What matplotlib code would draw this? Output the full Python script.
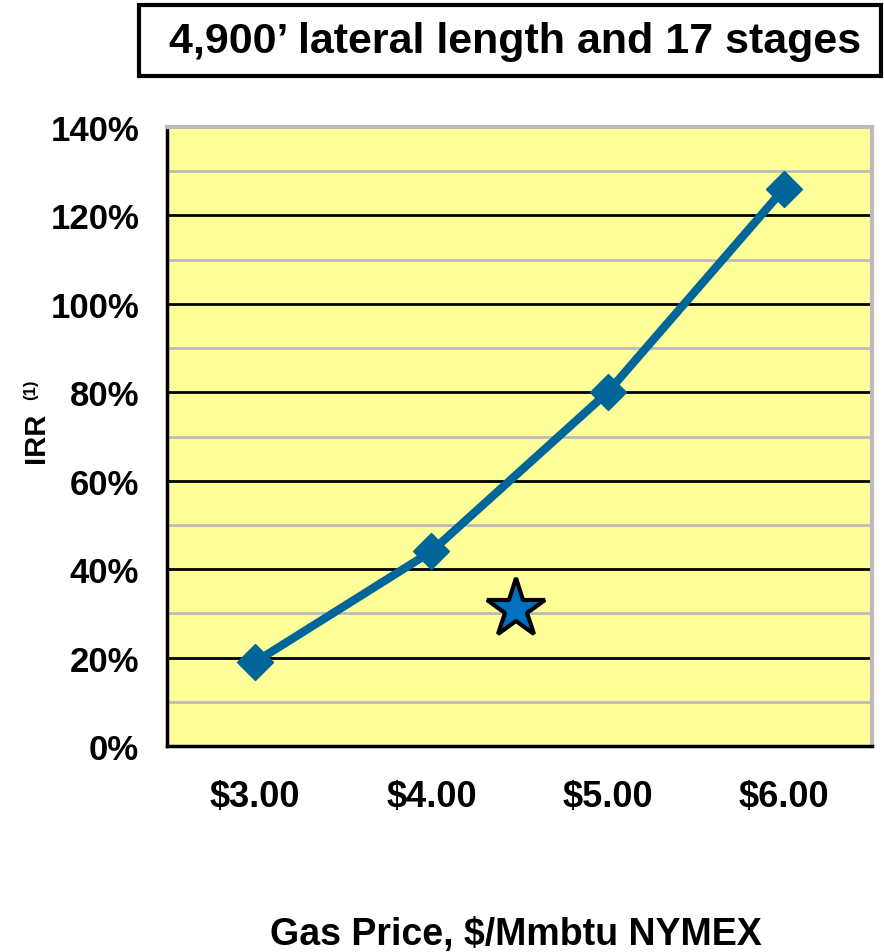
import numpy as np
import matplotlib.pyplot as plt
from matplotlib.patches import Rectangle

plt.rcParams['font.family'] = ['Liberation Sans', 'DejaVu Sans']

prices = ['$3.00', '$4.00', '$5.00', '$6.00']
irr = [19, 44, 80, 126]
star_pos = 1.48
star_irr = 31
yticks = [0, 20, 40, 60, 80, 100, 120, 140]

fig = plt.figure(figsize=(8.84, 9.53), dpi=100)
ax = fig.add_axes([167/884, 1-747/953, (872-167)/884, (747-128)/953])
ax.set_facecolor('#FFFF99')

x = np.arange(len(prices))
for v in range(10, 140, 20):
    ax.axhline(v, color='#BBBBBB', lw=2, zorder=1)
for v in range(20, 140, 20):
    ax.axhline(v, color='black', lw=2, zorder=1)

ax.plot(x, irr, color='#006699', lw=6, marker='D', ms=18, zorder=3)
ax.plot([star_pos], [star_irr], marker='*', ms=44, color='#0070C0',
        markeredgecolor='black', markeredgewidth=3, zorder=4)

ax.set_xlim(-0.5, 3.5)
ax.set_ylim(0, 140)
ax.set_xticks(x)
ax.set_xticklabels(prices, fontsize=26, fontweight='bold')
ax.set_yticks(yticks)
ax.set_yticklabels([f'{v}%' for v in yticks], fontsize=25, fontweight='bold')
ax.tick_params(length=0, pad=24, axis='x')
ax.tick_params(length=0, pad=20, axis='y')

for s in ['top', 'right']:
    ax.spines[s].set_color('#BBBBBB')
    ax.spines[s].set_linewidth(3)
for s in ['left', 'bottom']:
    ax.spines[s].set_color('black')
    ax.spines[s].set_linewidth(2.5)

fig.text(36/884, 1-438/953, 'IRR', rotation=90, ha='center', va='center',
         fontsize=21, fontweight='bold')
fig.text(31/884, 1-390/953, '(1)', rotation=90, ha='center', va='center',
         fontsize=12, fontweight='bold')
fig.text(516/884, 1-935/953, 'Gas Price, $/Mmbtu NYMEX', ha='center', va='center',
         fontsize=27, fontweight='bold')

fig.patches.append(Rectangle((139/884, 1-77/953), (881-139)/884, (77-6)/953,
                             transform=fig.transFigure, fill=False, ec='black', lw=3))
fig.text(515/884, 1-42/953, '4,900\u2019 lateral length and 17 stages', ha='center',
         va='center', fontsize=31, fontweight='bold')

fig.savefig('out.png', dpi=100)
